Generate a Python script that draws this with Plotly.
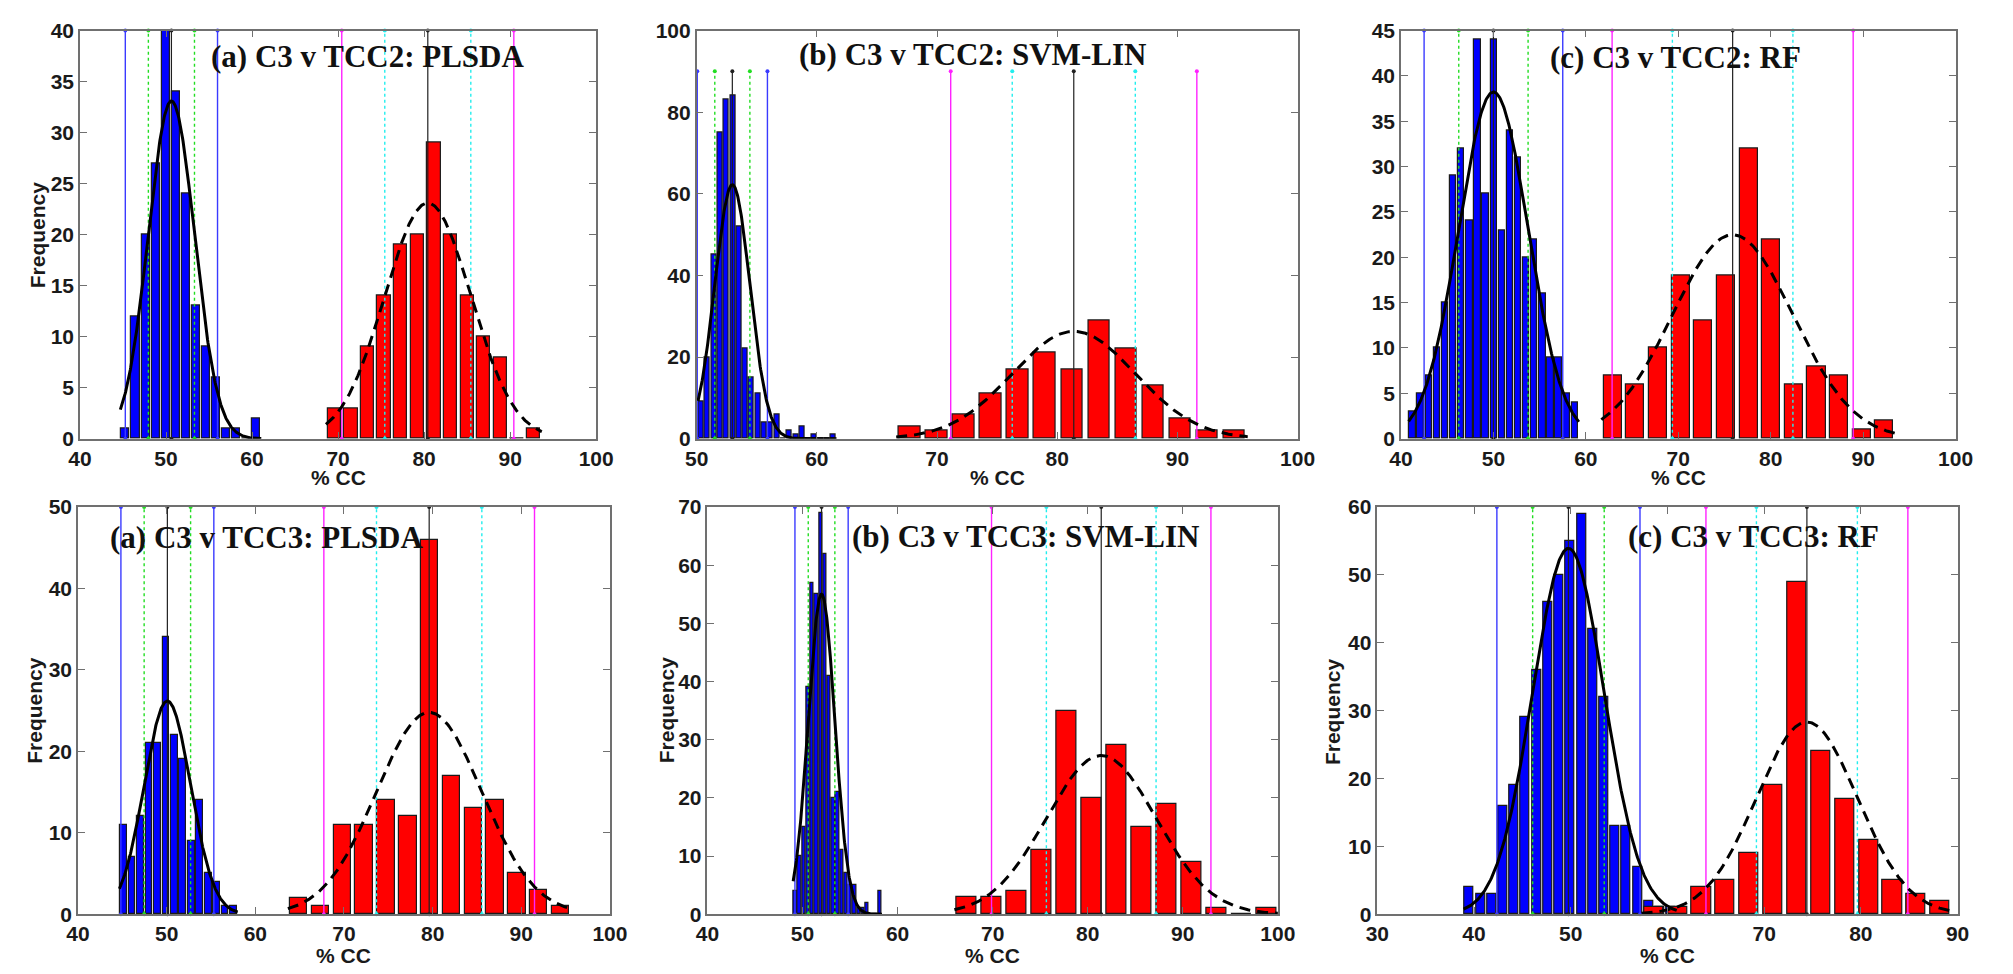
import numpy as np
import plotly.graph_objects as go

W, H = 2013, 974

# ---- (a) C3 v TCC2: PLSDA ----
a2_blue_x = [45.28, 46.45, 47.62, 48.79, 49.96, 51.13, 52.30, 53.47, 54.64, 55.81, 56.98, 58.15, 59.32, 60.49]
a2_blue_n = [1, 12, 20, 27, 40, 34, 24, 13, 9, 6, 1, 1, 0, 2]
a2_red_x = [69.56, 71.49, 73.42, 75.35, 77.28, 79.21, 81.14, 83.07, 85.00, 86.93, 88.86, 90.79, 92.72]
a2_red_n = [3, 3, 9, 14, 19, 20, 29, 20, 14, 10, 8, 0, 1]
a2_fit = {"blue": (50.63, 2.68), "red": (80.43, 5.00)}

# ---- (b) C3 v TCC2: SVM-LIN ----
b2_blue_x = [50.38, 50.90, 51.43, 51.95, 52.48, 53.00, 53.52, 54.05, 54.57, 55.10, 55.62,
             56.14, 56.67, 57.19, 57.72, 58.24, 58.76, 59.29, 59.81, 60.34, 60.86, 61.38]
b2_blue_n = [9, 20, 45, 75, 83, 84, 52, 22, 15, 11, 4, 4, 6, 0, 2, 1, 3, 0, 1, 0, 0, 1]
b2_red_x = [67.73, 69.98, 72.23, 74.48, 76.73, 78.98, 81.23, 83.48, 85.73, 87.98, 90.23, 92.48, 94.73]
b2_red_n = [3, 2, 6, 11, 17, 21, 17, 29, 22, 13, 5, 2, 2]
b2_fit = {"blue": (52.97, 1.46), "red": (81.38, 5.12)}

# ---- (c) C3 v TCC2: RF ----
c2_blue_x = [41.26, 42.13, 43.01, 43.89, 44.76, 45.64, 46.52, 47.40, 48.27, 49.15, 50.03,
             50.90, 51.78, 52.66, 53.53, 54.41, 55.29, 56.17, 57.04, 57.92, 58.80]
c2_blue_n = [3, 5, 7, 10, 15, 29, 32, 24, 44, 27, 44, 23, 34, 31, 20, 22, 16, 9, 9, 5, 4]
c2_red_x = [62.90, 65.35, 67.80, 70.25, 72.70, 75.15, 77.60, 80.05, 82.50, 84.95, 87.40, 89.85, 92.30]
c2_red_n = [7, 6, 10, 18, 13, 18, 32, 22, 6, 8, 7, 1, 2]
c2_fit = {"blue": (50.00, 3.75), "red": (75.88, 6.52)}

# ---- (a) C3 v TCC3: PLSDA ----
a3_blue_x = [45.15, 46.10, 47.06, 48.01, 48.96, 49.92, 50.87, 51.82, 52.78, 53.73, 54.68, 55.63, 56.59, 57.54]
a3_blue_n = [11, 7, 12, 21, 21, 34, 22, 19, 9, 14, 5, 4, 1, 1]
a3_red_x = [64.90, 67.36, 69.82, 72.28, 74.74, 77.20, 79.66, 82.12, 84.58, 87.04, 89.50, 91.96, 94.42]
a3_red_n = [2, 1, 11, 11, 14, 12, 46, 17, 13, 14, 5, 3, 1]
a3_fit = {"blue": (50.08, 2.62), "red": (79.61, 5.94)}

# ---- (b) C3 v TCC3: SVM-LIN ----
b3_blue_x = [49.24, 49.69, 50.13, 50.58, 51.02, 51.47, 51.91, 52.36, 52.80, 53.24, 53.69,
             54.13, 54.58, 55.02, 55.47, 55.91, 56.36, 56.80, 57.24, 57.69, 58.13]
b3_blue_n = [4, 10, 15, 39, 57, 55, 69, 62, 41, 20, 21, 11, 7, 5, 5, 1, 1, 2, 0, 0, 4]
b3_red_x = [67.29, 69.92, 72.55, 75.18, 77.81, 80.44, 83.07, 85.70, 88.33, 90.96, 93.59, 96.22, 98.85]
b3_red_n = [3, 3, 4, 11, 35, 20, 29, 15, 19, 9, 1, 0, 1]
b3_fit = {"blue": (52.00, 1.40), "red": (81.42, 5.77)}

# ---- (c) C3 v TCC3: RF ----
c3_blue_x = [39.50, 40.66, 41.82, 42.98, 44.14, 45.30, 46.46, 47.62, 48.78, 49.94,
             51.10, 52.26, 53.42, 54.58, 55.74, 56.90, 58.06, 59.22, 60.38]
c3_blue_n = [4, 3, 3, 16, 19, 29, 36, 46, 50, 55, 59, 42, 32, 13, 13, 7, 2, 1, 1]
c3_red_x = [58.56, 61.03, 63.50, 65.97, 68.44, 70.91, 73.38, 75.85, 78.32, 80.79, 83.26, 85.73, 88.20]
c3_red_n = [1, 1, 4, 5, 9, 19, 49, 24, 17, 11, 5, 3, 2]
c3_fit = {"blue": (49.76, 3.70), "red": (74.42, 5.22)}

titles = ["(a) C3 v TCC2: PLSDA", "(b) C3 v TCC2: SVM-LIN", "(c) C3 v TCC2: RF",
          "(a) C3 v TCC3: PLSDA", "(b) C3 v TCC3: SVM-LIN", "(c) C3 v TCC3: RF"]
x_ranges = [(40, 100), (50, 100), (40, 100), (40, 100), (40, 100), (30, 90)]
y_ranges = [(0, 40), (0, 100), (0, 45), (0, 50), (0, 70), (0, 60)]
y_dticks = [5, 20, 5, 10, 10, 10]
line_tops = [40, 90, 45, 50, 70, 60]

panels = [
    (a2_blue_x, a2_blue_n, a2_red_x, a2_red_n, a2_fit),
    (b2_blue_x, b2_blue_n, b2_red_x, b2_red_n, b2_fit),
    (c2_blue_x, c2_blue_n, c2_red_x, c2_red_n, c2_fit),
    (a3_blue_x, a3_blue_n, a3_red_x, a3_red_n, a3_fit),
    (b3_blue_x, b3_blue_n, b3_red_x, b3_red_n, b3_fit),
    (c3_blue_x, c3_blue_n, c3_red_x, c3_red_n, c3_fit),
]

# plot-area boxes in pixels: left, right, top, bottom
boxes = [(69, 593, 19, 437), (695, 1305, 19, 437), (1410, 1973, 19, 437),
         (67, 607, 507, 924), (706, 1285, 507, 924), (1386, 1975, 507, 924)]
title_pos = [(361, 46), (975, 44), (1689, 47), (258, 538), (1029, 537), (1768, 537)]
xlabel_y = [477, 477, 477, 966, 966, 966]
ylabel_pos = [(26, 228), None, None, (22, 715), (664, 715), (1340, 717)]

AXIS_GREY = "#707070"
fig = go.Figure()


def normal_curve(centers, counts, mean, sd):
    step = centers[1] - centers[0]
    lo, hi = centers[0] - step / 2, centers[-1] + step / 2
    xs = np.linspace(lo, hi, 300)
    scale = sum(counts) * step
    ys = scale * np.exp(-0.5 * ((xs - mean) / sd) ** 2) / (sd * np.sqrt(2 * np.pi))
    return xs, ys


for i, (bx, bn, rx, rn, fit) in enumerate(panels):
    k = "" if i == 0 else str(i + 1)
    xa, ya = "x" + k, "y" + k
    top = line_tops[i]

    for cx, cn, fill in ((bx, bn, "#0000ff"), (rx, rn, "#ff0000")):
        step = cx[1] - cx[0]
        fig.add_trace(go.Bar(x=cx, y=cn, width=0.8 * step, xaxis=xa, yaxis=ya,
                             marker=dict(color=fill, line=dict(color="#1a1a1a", width=1.2)),
                             showlegend=False, hoverinfo="x+y"))

    # reference lines: mean, mean +/- 1 sd, mean +/- 2 sd
    specs = [("blue", "#3a3aff", "#22dd22"), ("red", "#ff22ff", "#22eeee")]
    for key, c2, c1 in specs:
        m, s = fit[key]
        for xv, col, dash, wd in ((m - 2 * s, c2, "solid", 1.4), (m + 2 * s, c2, "solid", 1.4),
                                  (m - s, c1, "dot", 1.4), (m + s, c1, "dot", 1.4),
                                  (m, "#202020", "solid", 1.2)):
            fig.add_trace(go.Scatter(x=[xv, xv], y=[0, top], mode="lines+markers",
                                     line=dict(color=col, width=wd, dash=dash),
                                     marker=dict(color=col, size=4),
                                     xaxis=xa, yaxis=ya, showlegend=False,
                                     cliponaxis=False, hoverinfo="skip"))

    # fitted normal curves
    xs, ys = normal_curve(bx, bn, *fit["blue"])
    fig.add_trace(go.Scatter(x=xs, y=ys, mode="lines", line=dict(color="black", width=3),
                             xaxis=xa, yaxis=ya, showlegend=False, hoverinfo="skip"))
    xs, ys = normal_curve(rx, rn, *fit["red"])
    fig.add_trace(go.Scatter(x=xs, y=ys, mode="lines",
                             line=dict(color="black", width=3, dash="11px,7px"),
                             xaxis=xa, yaxis=ya, showlegend=False, hoverinfo="skip"))

layout = dict(width=W, height=H, margin=dict(l=0, r=0, t=0, b=0),
              paper_bgcolor="white", plot_bgcolor="white", barmode="overlay",
              bargap=0, annotations=[])

tick_font = dict(family="Liberation Sans, Arial, sans-serif", size=21, color="#1a1a1a", weight="bold")
for i in range(6):
    k = "" if i == 0 else str(i + 1)
    l, r, t, b = boxes[i]
    common = dict(showline=True, linecolor=AXIS_GREY, linewidth=1.5, mirror="ticks",
                  ticks="inside", ticklen=7, tickcolor=AXIS_GREY, tickwidth=1.3,
                  showgrid=False, zeroline=False, tickfont=tick_font, fixedrange=True)
    layout["xaxis" + k] = dict(domain=[l / W, r / W], range=list(x_ranges[i]), dtick=10,
                               anchor="y" + k, **common)
    layout["yaxis" + k] = dict(domain=[1 - b / H, 1 - t / H], range=list(y_ranges[i]),
                               dtick=y_dticks[i], anchor="x" + k, **common)

    tx, ty = title_pos[i]
    layout["annotations"].append(dict(
        text="<b>%s</b>" % titles[i], x=tx / W, y=1 - ty / H, xref="paper", yref="paper",
        showarrow=False, xanchor="center", yanchor="middle",
        font=dict(family="Liberation Serif, Times New Roman, serif", size=31, color="#111")))
    # x-axis label
    layout["annotations"].append(dict(
        text="<b>% CC</b>", x=(l + r) / 2 / W, y=1 - xlabel_y[i] / H, xref="paper", yref="paper",
        showarrow=False, xanchor="center", yanchor="middle",
        font=dict(family="Liberation Sans, Arial, sans-serif", size=21, color="#1a1a1a")))
    if ylabel_pos[i] is not None:
        px, py = ylabel_pos[i]
        layout["annotations"].append(dict(
            text="<b>Frequency</b>", x=px / W, y=1 - py / H, xref="paper", yref="paper",
            showarrow=False, xanchor="center", yanchor="middle", textangle=-90,
            font=dict(family="Liberation Sans, Arial, sans-serif", size=21, color="#1a1a1a")))

fig.update_layout(**layout)
fig.write_html("out.html")
